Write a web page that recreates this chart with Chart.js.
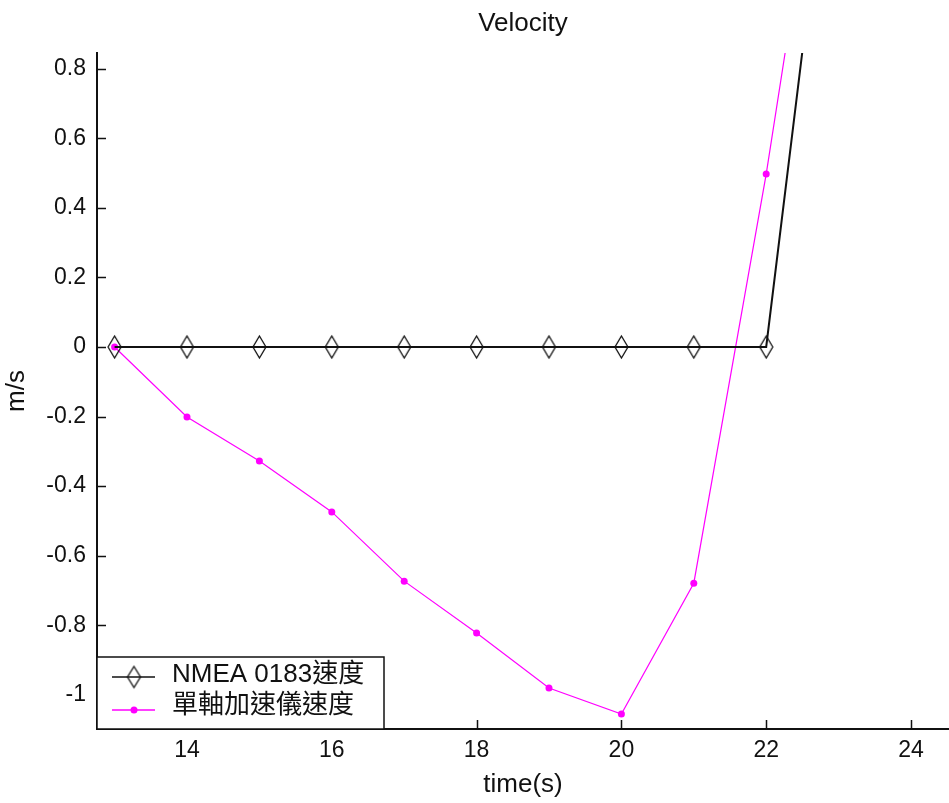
<!DOCTYPE html>
<html><head><meta charset="utf-8">
<script src="https://cdn.jsdelivr.net/npm/chart.js@4.4.1/dist/chart.umd.min.js"></script>
<style>html,body{margin:0;padding:0;background:#fff;overflow:hidden}canvas{display:block}</style>
</head><body>
<canvas id="c" width="949" height="803"></canvas>
<script>
const timeSeconds = [13,14,15,16,17,18,19,20,21,22,23];
const nmeaVelocity = [0,0,0,0,0,0,0,0,0,0,1.70];
const accelVelocity = [0,-0.201,-0.328,-0.474,-0.673,-0.822,-0.980,-1.055,-0.679,0.497,1.83];
const xTickValues = [14,16,18,20,22,24];
const xTickLabels = ['14','16','18','20','22','24'];
const yTickValues = [-1,-0.8,-0.6,-0.4,-0.2,0,0.2,0.4,0.6,0.8];
const yTickLabels = ['-1','-0.8','-0.6','-0.4','-0.2','0','0.2','0.4','0.6','0.8'];
const seriesNames = ['NMEA 0183速度','單軸加速儀速度'];
const chartTitle = 'Velocity';
const xTitle = 'time(s)';
const yTitle = 'm/s';

const FONT = "'Liberation Sans', Arial, 'Noto Sans CJK TC', sans-serif";
const INK = '#111';

function diamondImg(w, h, color, lw) {
  const c = document.createElement('canvas');
  c.width = w + 4; c.height = h + 4;
  const g = c.getContext('2d');
  g.strokeStyle = color; g.lineWidth = lw;
  g.beginPath();
  g.moveTo(c.width / 2, 2);
  g.lineTo(c.width - 2, c.height / 2);
  g.lineTo(c.width / 2, c.height - 2);
  g.lineTo(2, c.height / 2);
  g.closePath();
  g.stroke();
  return c;
}
const diamond = diamondImg(13, 22, '#111', 1.3);

const inwardTicks = {
  id: 'inwardTicks',
  afterDatasetsDraw(chart) {
    const {ctx, chartArea: a, scales} = chart;
    ctx.save();
    ctx.strokeStyle = INK; ctx.lineWidth = 1.5;
    ctx.beginPath();
    yTickValues.forEach(v => {
      const y = Math.round(scales.y.getPixelForValue(v)) + 0.5;
      ctx.moveTo(a.left, y); ctx.lineTo(a.left + 9, y);
    });
    xTickValues.forEach(v => {
      const x = Math.round(scales.x.getPixelForValue(v)) + 0.5;
      ctx.moveTo(x, a.bottom); ctx.lineTo(x, a.bottom - 9);
    });
    ctx.stroke();
    ctx.restore();
  }
};

const boxLegend = {
  id: 'boxLegend',
  afterDraw(chart) {
    const {ctx, chartArea: a} = chart;
    const x0 = a.left, w = 287, h = 72, y0 = a.bottom - h;
    ctx.save();
    ctx.fillStyle = '#fff';
    ctx.fillRect(x0, y0, w, h);
    ctx.strokeStyle = INK; ctx.lineWidth = 1.5;
    ctx.strokeRect(x0, y0, w, h);
    const rows = [
      {y: y0 + 20, ty: y0 + 18, color: '#111', lw: 1.5, marker: 'diamond'},
      {y: y0 + 53, ty: y0 + 49, color: '#ff00ff', lw: 1.5, marker: 'dot'}
    ];
    rows.forEach((r, i) => {
      ctx.strokeStyle = r.color; ctx.lineWidth = r.lw;
      ctx.beginPath(); ctx.moveTo(x0 + 15, r.y); ctx.lineTo(x0 + 58, r.y); ctx.stroke();
      const cx = x0 + 37;
      if (r.marker === 'diamond') {
        ctx.drawImage(diamondImg(13, 21, '#111', 1.3), cx - 8.5, r.y - 12.5);
      } else {
        ctx.fillStyle = r.color;
        ctx.beginPath(); ctx.arc(cx, r.y, 3.5, 0, Math.PI * 2); ctx.fill();
      }
      ctx.fillStyle = INK;
      ctx.font = '26px ' + FONT;
      ctx.textBaseline = 'middle';
      ctx.textAlign = 'left';
      ctx.fillText(seriesNames[i], x0 + 75, r.ty);
    });
    ctx.restore();
  }
};

new Chart(document.getElementById('c'), {
  type: 'line',
  data: {
    datasets: [
      {
        label: seriesNames[0],
        data: timeSeconds.map((t, i) => ({x: t, y: nmeaVelocity[i]})),
        borderColor: '#111', borderWidth: 2,
        pointStyle: diamond, pointRadius: 11, pointHoverRadius: 11,
        backgroundColor: 'transparent',
        tension: 0, clip: 0
      },
      {
        label: seriesNames[1],
        data: timeSeconds.map((t, i) => ({x: t, y: accelVelocity[i]})),
        borderColor: '#ff00ff', borderWidth: 1.2,
        pointStyle: 'circle', pointRadius: 3.5, pointBorderWidth: 0,
        pointBackgroundColor: '#ff00ff', backgroundColor: '#ff00ff',
        tension: 0, clip: 0
      }
    ]
  },
  options: {
    responsive: false,
    animation: false,
    devicePixelRatio: 1,
    layout: {padding: 0, autoPadding: false},
    plugins: {
      legend: {display: false},
      tooltip: {enabled: false},
      title: {
        display: true, text: chartTitle, fullSize: false,
        color: INK, font: {family: FONT, size: 26, weight: 'normal', lineHeight: 1.2},
        padding: {top: 8, bottom: 13.8}
      }
    },
    scales: {
      x: {
        type: 'linear', min: 12.757, max: 24.525,
        grid: {display: false, drawTicks: false},
        border: {display: true, color: INK, width: 2},
        afterBuildTicks(s) { s.ticks = xTickValues.map(v => ({value: v})); },
        afterFit(s) { s.height = 74; s.paddingLeft = 0; s.paddingRight = 0; },
        ticks: {
          autoSkip: false, maxRotation: 0, padding: 8, color: INK,
          font: {family: FONT, size: 23},
          callback: (v) => xTickLabels[xTickValues.indexOf(v)]
        },
        title: {
          display: true, text: xTitle, color: INK,
          font: {family: FONT, size: 26, lineHeight: 1.2},
          padding: {top: 0, bottom: 2.4}
        }
      },
      y: {
        type: 'linear', min: -1.098, max: 0.845,
        grid: {display: false, drawTicks: false},
        border: {display: true, color: INK, width: 2},
        afterBuildTicks(s) { s.ticks = yTickValues.map(v => ({value: v})); },
        afterFit(s) { s.width = 97; s.paddingTop = 0; s.paddingBottom = 0; },
        ticks: {
          autoSkip: false, padding: 11, color: INK,
          font: {family: FONT, size: 23},
          callback: (v) => { const i = yTickValues.findIndex(t => Math.abs(t - v) < 1e-9); return yTickLabels[i]; }
        },
        title: {
          display: true, text: yTitle, color: INK,
          font: {family: FONT, size: 26, lineHeight: 1.2},
          padding: {top: 1, bottom: 0}
        }
      }
    }
  },
  plugins: [inwardTicks, boxLegend]
});
</script>
</body></html>
